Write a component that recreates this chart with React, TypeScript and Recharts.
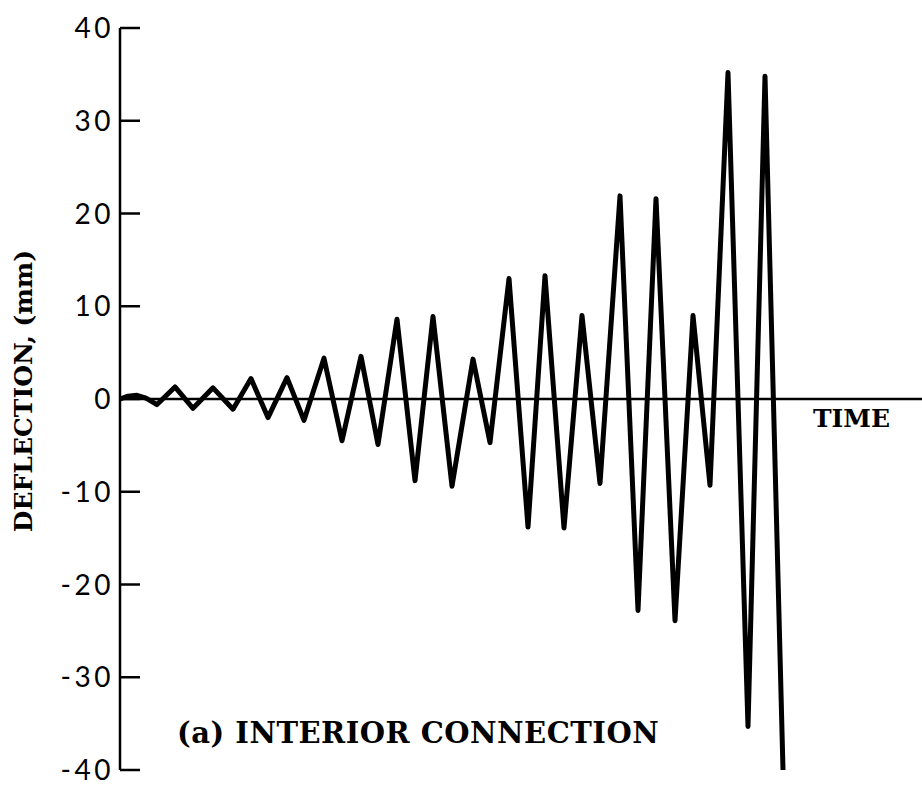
import { LineChart, Line, XAxis, YAxis, ReferenceLine } from "recharts";

// time is unitless (the original has no time scale)
const times = [
  0, 8, 17, 26, 37, 55, 73, 93, 113, 131, 148, 167, 184, 204, 222, 241, 258,
  277, 295, 313, 332, 353, 370, 389, 408, 425, 444, 462, 480, 500, 518, 536,
  555, 573, 590, 608, 628, 645, 663,
];
const deflection = [
  0, 0.3, 0.4, 0.1, -0.6, 1.3, -1.0, 1.2, -1.1, 2.2, -2.0, 2.3, -2.3, 4.4,
  -4.5, 4.6, -4.9, 8.6, -8.8, 8.9, -9.4, 4.3, -4.7, 13.0, -13.8, 13.3, -13.9,
  9.0, -9.1, 21.9, -22.8, 21.6, -23.9, 9.0, -9.3, 35.2, -35.3, 34.8, -40,
];
const yTicks = [-40, -30, -20, -10, 0, 10, 20, 30, 40];

const data = times.map((t, i) => ({ time: t, deflection: deflection[i] }));

const serif = "'DejaVu Serif', 'Liberation Serif', serif";
const TICK_MARGIN = 6;
const INNER_TICK = 20;

// label on the left, short tick pointing into the plot on the right
function YTick({ x, y, payload }: any) {
  const axisX = x + TICK_MARGIN;
  return (
    <g>
      <line
        x1={axisX}
        x2={axisX + INNER_TICK}
        y1={y}
        y2={y}
        stroke="#000"
        strokeWidth={2.5}
      />
      <text
        x={x}
        y={y + 10}
        textAnchor="end"
        fill="#000"
        fontSize={28}
        fontFamily="Lato, 'DejaVu Sans', sans-serif"
        letterSpacing={3.5}
      >
        {payload.value}
      </text>
    </g>
  );
}

function YLabel({ viewBox }: any) {
  const cx = viewBox.x + 23;
  const cy = viewBox.y + viewBox.height / 2 - 8;
  return (
    <text
      x={cx}
      y={cy}
      transform={`rotate(-90, ${cx}, ${cy})`}
      textAnchor="middle"
      dominantBaseline="central"
      fontFamily={serif}
      fontWeight="bold"
      fontSize={25}
      fill="#000"
    >
      DEFLECTION, (mm)
    </text>
  );
}

function TimeLabel({ viewBox }: any) {
  return (
    <text
      x={viewBox.x + viewBox.width - 32}
      y={viewBox.y + 28}
      textAnchor="end"
      fontFamily={serif}
      fontWeight="bold"
      fontSize={25}
      fill="#000"
    >
      TIME
    </text>
  );
}

export default function App() {
  return (
    <div
      style={{
        position: "absolute",
        left: 0,
        top: 0,
        width: 922,
        height: 786,
        background: "#fff",
      }}
    >
      <LineChart
        width={922}
        height={786}
        data={data}
        margin={{ top: 28, right: 0, bottom: 16, left: 0 }}
      >
        <XAxis dataKey="time" type="number" domain={[0, 802]} hide />
        <YAxis
          yAxisId="val"
          type="number"
          domain={[-40, 40]}
          ticks={yTicks}
          interval={0}
          width={120}
          tickLine={false}
          tickSize={0}
          tickMargin={TICK_MARGIN}
          axisLine={{ stroke: "#000", strokeWidth: 2.5 }}
          tick={YTick}
          label={{ content: YLabel }}
        />
        <ReferenceLine
          yAxisId="val"
          y={0}
          stroke="#000"
          strokeWidth={2.5}
          label={{ content: TimeLabel }}
        />
        <Line
          yAxisId="val"
          dataKey="deflection"
          type="linear"
          stroke="#000"
          strokeWidth={5}
          strokeLinejoin="round"
          dot={false}
          activeDot={false}
          isAnimationActive={false}
        />
        <text
          x={177}
          y={743}
          fontFamily={serif}
          fontWeight="bold"
          fontSize={29}
          letterSpacing={0.5}
          fill="#000"
        >
          (a) INTERIOR CONNECTION
        </text>
      </LineChart>
    </div>
  );
}
